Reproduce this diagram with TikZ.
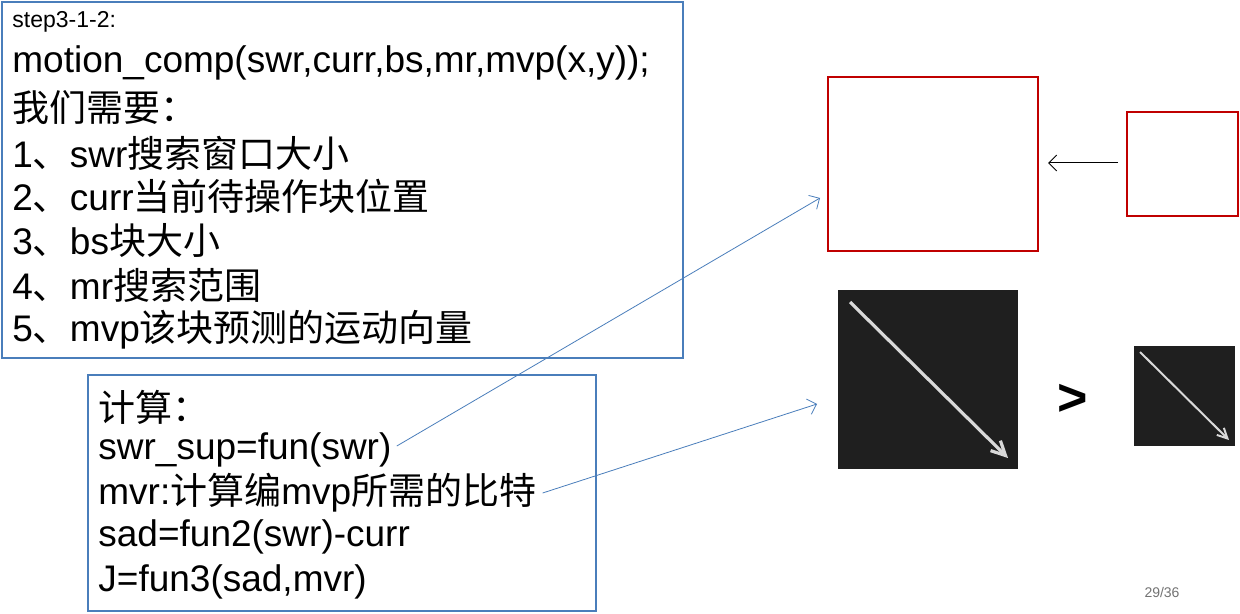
\documentclass[tikz,border=0pt]{standalone}
\usepackage{fontspec}
\usetikzlibrary{arrows.meta}
\setmainfont{Liberation Sans}
\newfontfamily\cjk{Noto Sans CJK SC}
\newcommand{\zh}[1]{{\cjk #1}}
\definecolor{boxblue}{RGB}{74,126,187}
\definecolor{redline}{RGB}{192,0,0}
\begin{document}
\begin{tikzpicture}[x=0.5pt,y=-0.5pt,
  bluebox/.style={draw=boxblue,line width=1.2pt},
  redbox/.style={draw=redline,line width=1.2pt},
  darkbox/.style={fill=black!88,draw=none},
  txt/.style={anchor=west,inner sep=0pt,font=\fontsize{18.5}{20}\selectfont},
  conn/.style={draw=boxblue,line width=0.4pt,-{Straight Barb[length=4pt]}},
  chalk/.style={draw=white!85!black,line width=1.6pt,-{Straight Barb[length=7pt,width=7pt]}}]
\useasboundingbox (0,0) rectangle (1240,614);
\fill[white] (0,0) rectangle (1240,614);
\draw[bluebox] (2,2) rectangle (683,358);
\draw[bluebox] (88,375) rectangle (596,611);
\node[txt,font=\fontsize{11.5}{13}\selectfont] (s0) at (12,22) {step3-1-2:};
\node[txt] (s1) at (12,63) {motion\_comp(swr,curr,bs,mr,mvp(x,y));};
\node[txt] (s2) at (12,108) {\zh{我们需要：}};
\node[txt] (s3) at (12,153) {1\zh{、}swr\zh{搜索窗口大小}};
\node[txt] (s4) at (12,196) {2\zh{、}curr\zh{当前待操作块位置}};
\node[txt] (s5) at (12,240) {3\zh{、}bs\zh{块大小}};
\node[txt] (s6) at (12,285) {4\zh{、}mr\zh{搜索范围}};
\node[txt] (s7) at (12,330) {5\zh{、}mvp\zh{该块预测的运动向量}};
\node[txt] (c1) at (98,407) {\zh{计算：}};
\node[txt] (c2) at (98,450) {swr\_sup=fun(swr)};
\node[txt] (c3) at (98,493) {mvr:\zh{计算编}mvp\zh{所需的比特}};
\node[txt] (c4) at (98,537) {sad=fun2(swr)-curr};
\node[txt] (c5) at (98,582) {J=fun3(sad,mvr)};
\draw[redbox] (828,77) rectangle (1038,251);
\draw[redbox] (1127,112) rectangle (1238,216);
\fill[darkbox] (838,290) rectangle (1018,469);
\fill[darkbox] (1134,346) rectangle (1235,446);
\coordinate (a1) at (850,302); \coordinate (a2) at (1008,458);
\draw[chalk] (a1) -- (a2);
\coordinate (b1) at (1140,352); \coordinate (b2) at (1229,440);
\draw[chalk,line width=1pt,-{Straight Barb[length=5pt,width=5pt]}] (b1) -- (b2);
\node[inner sep=0pt,font=\fontsize{26}{28}\selectfont\bfseries] (gt) at (1073,400) {>};
\coordinate (k1) at (1118,163); \coordinate (k2) at (1048,163);
\draw[line width=0.5pt,-{Straight Barb[length=4pt]}] (k1) -- (k2);
\coordinate (e1) at (820,198); \coordinate (e2) at (817,404);
\draw[conn] (c2.east) ++(5,-4) -- (e1);
\draw[conn] (c3.east) ++(6,0) -- (e2);
\node[inner sep=0pt,text=black!55,font=\fontsize{7}{8}\selectfont] (pg) at (1162,592) {29/36};
\end{tikzpicture}
\end{document}
